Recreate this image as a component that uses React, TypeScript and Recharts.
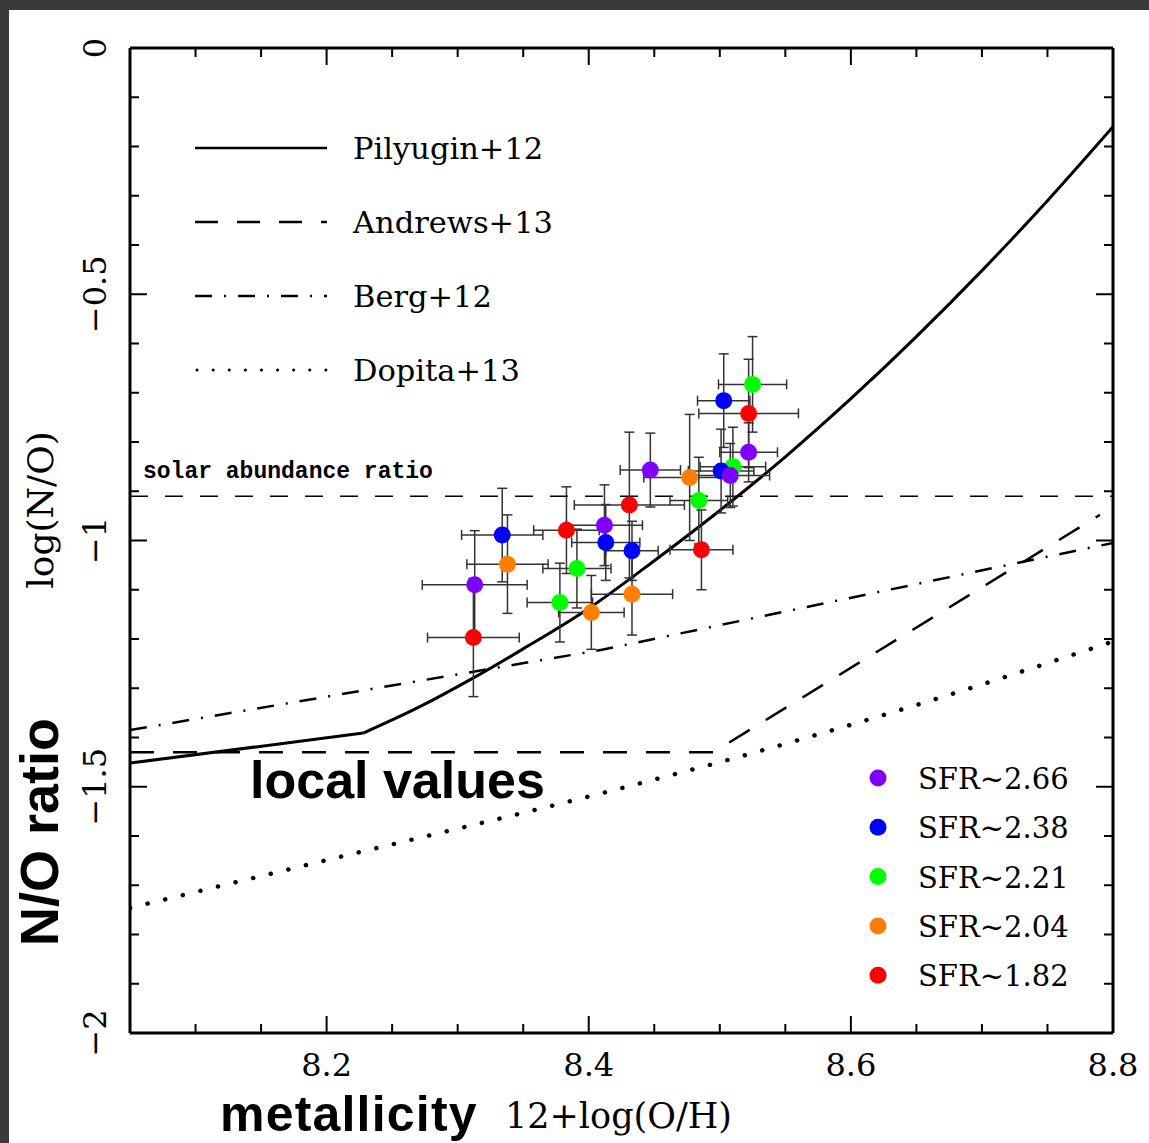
import React from "react"
import { ComposedChart, Line, Scatter, ErrorBar, XAxis, YAxis, ReferenceLine } from "recharts"

// curves from the literature
const PILYUGIN_LOW_X = [8.05, 8.228]
const PILYUGIN_LOW_Y = [-1.452, -1.391]
const PILYUGIN_X = [8.228, 8.27, 8.312, 8.35, 8.4, 8.45, 8.5, 8.55, 8.6, 8.65, 8.7, 8.75, 8.8]
const PILYUGIN_Y = [-1.391, -1.339, -1.279, -1.22, -1.138, -1.041, -0.939, -0.83, -0.712, -0.586, -0.452, -0.31, -0.16]
const ANDREWS_X = [8.05, 8.495, 8.79]
const ANDREWS_Y = [-1.43, -1.43, -0.948]
const BERG_X = [8.05, 8.41, 8.8]
const BERG_Y = [-1.385, -1.222, -1.005]
const DOPITA_X = [8.05, 8.2, 8.41, 8.5, 8.65, 8.8]
const DOPITA_Y = [-1.746, -1.649, -1.513, -1.45, -1.334, -1.205]
const SOLAR = -0.91

// galaxies in SFR bins
const PURPLE_X = [8.313, 8.412, 8.447, 8.522, 8.508]
const PURPLE_Y = [-1.09, -0.969, -0.857, -0.821, -0.868]
const PURPLE_XERR = [0.04, 0.029, 0.023, 0.022, 0.03]
const PURPLE_YERR = [0.11, 0.082, 0.075, 0.06, 0.065]

const BLUE_X = [8.334, 8.413, 8.433, 8.503, 8.501]
const BLUE_Y = [-0.989, -1.004, -1.021, -0.716, -0.859]
const BLUE_XERR = [0.031, 0.026, 0.02, 0.02, 0.025]
const BLUE_YERR = [0.095, 0.077, 0.06, 0.095, 0.085]

const GREEN_X = [8.378, 8.391, 8.484, 8.525, 8.51]
const GREEN_Y = [-1.126, -1.057, -0.919, -0.683, -0.85]
const GREEN_XERR = [0.025, 0.026, 0.022, 0.026, 0.025]
const GREEN_YERR = [0.08, 0.08, 0.088, 0.097, 0.08]

const ORANGE_X = [8.338, 8.402, 8.433, 8.477]
const ORANGE_Y = [-1.048, -1.146, -1.109, -0.872]
const ORANGE_XERR = [0.031, 0.025, 0.031, 0.035]
const ORANGE_YERR = [0.1, 0.075, 0.083, 0.128]

const RED_X = [8.312, 8.383, 8.431, 8.486, 8.522]
const RED_Y = [-1.197, -0.979, -0.928, -1.019, -0.742]
const RED_XERR = [0.035, 0.025, 0.042, 0.024, 0.038]
const RED_YERR = [0.12, 0.088, 0.148, 0.081, 0.11]

const SFR_LABELS = ["SFR~2.66", "SFR~2.38", "SFR~2.21", "SFR~2.04", "SFR~1.82"]
const SFR_COLORS = ["#8000ff", "#0000ff", "#00ff00", "#ff8000", "#ff0000"]

const X_TICKS = [8.05, 8.1, 8.15, 8.2, 8.25, 8.3, 8.35, 8.4, 8.45, 8.5, 8.55, 8.6, 8.65, 8.7, 8.75, 8.8]
const X_MAJOR = [8.2, 8.4, 8.6, 8.8]
const Y_TICKS = [-2, -1.9, -1.8, -1.7, -1.6, -1.5, -1.4, -1.3, -1.2, -1.1, -1, -0.9, -0.8, -0.7, -0.6, -0.5, -0.4, -0.3, -0.2, -0.1, 0]
const Y_MAJOR = [-2, -1.5, -1, -0.5, 0]
const Y_LABELS = ["−2", "−1.5", "−1", "−0.5", "0"]

const curve = (xs: number[], ys: number[]) => xs.map((x, i) => ({ x, y: ys[i] }))
const points = (xs: number[], ys: number[], ex: number[], ey: number[]) =>
  xs.map((x, i) => ({ x, y: ys[i], ex: ex[i], ey: ey[i] }))

const SERIF = "DejaVu Serif"
const isMajor = (list: number[], v: number) => list.some((m) => Math.abs(m - v) < 1e-6)

const BottomTick = (p: any) => {
  const v = p.payload.value
  const major = isMajor(X_MAJOR, v)
  return (
    <g>
      <line x1={p.x} x2={p.x} y1={p.y} y2={p.y - (major ? 17 : 9)} stroke="#000" strokeWidth={2} />
      {major && (
        <text x={p.x} y={p.y + 43} textAnchor="middle" fontFamily={SERIF} fontSize={32} fill="#000">
          {v.toFixed(1)}
        </text>
      )}
    </g>
  )
}

const TopTick = (p: any) => {
  const major = isMajor(X_MAJOR, p.payload.value)
  return <line x1={p.x} x2={p.x} y1={p.y} y2={p.y + (major ? 17 : 9)} stroke="#000" strokeWidth={2} />
}

const LeftTick = (p: any) => {
  const v = p.payload.value
  const idx = Y_MAJOR.findIndex((m) => Math.abs(m - v) < 1e-6)
  return (
    <g>
      <line x1={p.x} x2={p.x + (idx >= 0 ? 17 : 9)} y1={p.y} y2={p.y} stroke="#000" strokeWidth={2} />
      {idx >= 0 && (
        <text
          transform={`translate(${p.x - 35},${p.y}) rotate(-90)`}
          textAnchor="middle"
          dominantBaseline="central"
          fontFamily={SERIF}
          fontSize={32}
          fill="#000"
        >
          {Y_LABELS[idx]}
        </text>
      )}
    </g>
  )
}

const RightTick = (p: any) => {
  const major = isMajor(Y_MAJOR, p.payload.value)
  return <line x1={p.x} x2={p.x - (major ? 17 : 9)} y1={p.y} y2={p.y} stroke="#000" strokeWidth={2} />
}

const dot = (color: string) => (p: any) => <circle cx={p.cx} cy={p.cy} r={8.5} fill={color} />

const SERIES = [
  { color: "#ff0000", data: points(RED_X, RED_Y, RED_XERR, RED_YERR) },
  { color: "#ff8000", data: points(ORANGE_X, ORANGE_Y, ORANGE_XERR, ORANGE_YERR) },
  { color: "#00ff00", data: points(GREEN_X, GREEN_Y, GREEN_XERR, GREEN_YERR) },
  { color: "#0000ff", data: points(BLUE_X, BLUE_Y, BLUE_XERR, BLUE_YERR) },
  { color: "#8000ff", data: points(PURPLE_X, PURPLE_Y, PURPLE_XERR, PURPLE_YERR) },
]

const axisLine = { stroke: "#000", strokeWidth: 3 }

export default function App() {
  return (
    <div style={{ position: "absolute", left: 0, top: 0, width: 1149, height: 1143, background: "#3a3a3a", overflow: "hidden" }}>
      <div style={{ position: "absolute", left: 9, top: 10, width: 1140, height: 1133, background: "#fff" }} />
      <div style={{ position: "absolute", left: 0, top: 0 }}>
        <ComposedChart width={1149} height={1143} margin={{ top: 47, right: 35, bottom: 109, left: 129 }}>
          <XAxis
            xAxisId="b"
            dataKey="x"
            type="number"
            domain={[8.05, 8.8]}
            allowDataOverflow
            ticks={X_TICKS}
            interval={0}
            height={1}
            tickSize={0}
            tickMargin={0}
            tickLine={false}
            axisLine={axisLine}
            tick={BottomTick}
          />
          <XAxis
            xAxisId="t"
            orientation="top"
            dataKey="x"
            type="number"
            domain={[8.05, 8.8]}
            allowDataOverflow
            ticks={X_TICKS}
            interval={0}
            height={1}
            tickSize={0}
            tickMargin={0}
            tickLine={false}
            axisLine={axisLine}
            tick={TopTick}
          />
          <YAxis
            yAxisId="l"
            type="number"
            domain={[-2, 0]}
            allowDataOverflow
            ticks={Y_TICKS}
            interval={0}
            width={1}
            tickSize={0}
            tickMargin={0}
            tickLine={false}
            axisLine={axisLine}
            tick={LeftTick}
          />
          <YAxis
            yAxisId="r"
            orientation="right"
            type="number"
            domain={[-2, 0]}
            allowDataOverflow
            ticks={Y_TICKS}
            interval={0}
            width={1}
            tickSize={0}
            tickMargin={0}
            tickLine={false}
            axisLine={axisLine}
            tick={RightTick}
          />
          <ReferenceLine xAxisId="b" yAxisId="l" y={SOLAR} stroke="#000" strokeWidth={1.5} strokeDasharray="18 17" />
          <Line xAxisId="b" yAxisId="l" data={curve(DOPITA_X, DOPITA_Y)} dataKey="y" type="monotone" stroke="#000" strokeWidth={4.5} strokeLinecap="round" strokeDasharray="0.1 18" dot={false} isAnimationActive={false} />
          <Line xAxisId="b" yAxisId="l" data={curve(BERG_X, BERG_Y)} dataKey="y" type="linear" stroke="#000" strokeWidth={2.5} strokeDasharray="17 12 2 12" dot={false} isAnimationActive={false} />
          <Line xAxisId="b" yAxisId="l" data={curve(ANDREWS_X, ANDREWS_Y)} dataKey="y" type="linear" stroke="#000" strokeWidth={2.5} strokeDasharray="24 19" dot={false} isAnimationActive={false} />
          <Line xAxisId="b" yAxisId="l" data={curve(PILYUGIN_LOW_X, PILYUGIN_LOW_Y)} dataKey="y" type="linear" stroke="#000" strokeWidth={3} dot={false} isAnimationActive={false} />
          <Line xAxisId="b" yAxisId="l" data={curve(PILYUGIN_X, PILYUGIN_Y)} dataKey="y" type="monotone" stroke="#000" strokeWidth={3} dot={false} isAnimationActive={false} />
          {SERIES.map((s) => (
            <Scatter key={s.color} xAxisId="b" yAxisId="l" data={s.data} dataKey="y" shape={dot(s.color)} isAnimationActive={false}>
              <ErrorBar dataKey="ex" direction="x" width={5} stroke="#333" strokeWidth={1.5} />
              <ErrorBar dataKey="ey" direction="y" width={5} stroke="#333" strokeWidth={1.5} />
            </Scatter>
          ))}
        </ComposedChart>
      </div>
      <svg width={1149} height={1143} style={{ position: "absolute", left: 0, top: 0, pointerEvents: "none" }}>
        {/* line legend */}
        <line x1={195} x2={327} y1={148} y2={148} stroke="#000" strokeWidth={2.5} />
        <line x1={195} x2={327} y1={222} y2={222} stroke="#000" strokeWidth={2.5} strokeDasharray="23 19" />
        <line x1={195} x2={327} y1={296} y2={296} stroke="#000" strokeWidth={2.5} strokeDasharray="17 12 2 12" />
        <line x1={197} x2={327} y1={370} y2={370} stroke="#000" strokeWidth={3} strokeLinecap="round" strokeDasharray="0.1 16" />
        {["Pilyugin+12", "Andrews+13", "Berg+12", "Dopita+13"].map((t, i) => (
          <text key={t} x={353} y={159 + i * 74} fontFamily={SERIF} fontSize={30.5} fill="#000">
            {t}
          </text>
        ))}
        {/* SFR legend */}
        {SFR_LABELS.map((t, i) => (
          <g key={t}>
            <circle cx={878} cy={778 + i * 49.3} r={8.5} fill={SFR_COLORS[i]} />
            <text x={918} y={789 + i * 49.3} fontFamily={SERIF} fontSize={29} fill="#000">
              {t}
            </text>
          </g>
        ))}
        <text x={143} y={478} fontFamily="Liberation Mono" fontWeight="bold" fontSize={23} fill="#000">
          solar abundance ratio
        </text>
        <text x={250} y={798} fontFamily="Liberation Sans" fontWeight="bold" fontSize={52} fill="#000">
          local values
        </text>
        <text transform="translate(58,832) rotate(-90)" textAnchor="middle" fontFamily="Liberation Sans" fontWeight="bold" fontSize={54} fill="#000">
          N/O ratio
        </text>
        <text transform="translate(40,510) rotate(-90)" textAnchor="middle" dominantBaseline="central" fontFamily={SERIF} fontSize={36} fill="#000">
          log(N/O)
        </text>
        <text x={220} y={1131} fontFamily="Liberation Sans" fontWeight="bold" fontSize={50} letterSpacing={1.2} fill="#000">
          metallicity
        </text>
        <text x={505} y={1128} fontFamily={SERIF} fontSize={35} fill="#000">
          12+log(O/H)
        </text>
      </svg>
    </div>
  )
}
